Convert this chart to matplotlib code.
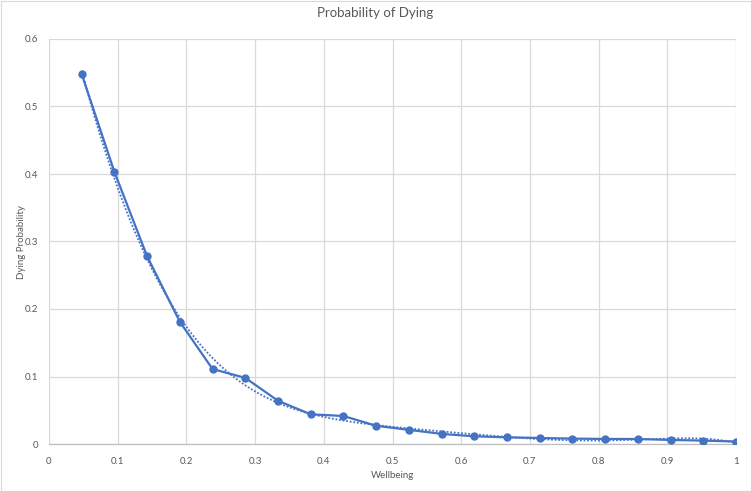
import numpy as np
import matplotlib
matplotlib.use("Agg")
import matplotlib.pyplot as plt
from matplotlib.ticker import FuncFormatter, MultipleLocator

wellbeing = [1/21, 2/21, 3/21, 4/21, 5/21, 6/21, 7/21, 8/21, 9/21, 10/21, 11/21,
             12/21, 13/21, 14/21, 15/21, 16/21, 17/21, 18/21, 19/21, 20/21, 1.0]
dying_prob = [0.548, 0.403, 0.278, 0.181, 0.111, 0.098, 0.064, 0.044, 0.0415, 0.027, 0.021,
              0.015, 0.0114, 0.0099, 0.0089, 0.008, 0.0075, 0.0074, 0.006, 0.005, 0.0037]

title = "Probability of Dying"
xlabel = "Wellbeing"
ylabel = "Dying Probability"

plt.rcParams['font.family'] = ['Lato', 'DejaVu Sans']

W, H = 751, 491
fig = plt.figure(figsize=(W/100, H/100), dpi=100)
ax = fig.add_axes([49/W, 1-444/H, (736-49)/W, (444-39)/H])

blue = '#4472C4'
grey_text = '#595959'

x = np.array(wellbeing)
y = np.array(dying_prob)
# polynomial trendline (order 6, least squares)
coef = np.polyfit(x, y, 6)
xt = np.linspace(x.min(), x.max(), 300)
ax.plot(xt, np.polyval(coef, xt), linestyle=(0, (1, 1)), color=blue, lw=1.3, zorder=2)

ax.plot(x, y, color=blue, lw=1.6, marker='o', markersize=5, zorder=3)

ax.set_xlim(0, 1)
ax.set_ylim(0, 0.6)
ax.xaxis.set_major_locator(MultipleLocator(0.1))
ax.yaxis.set_major_locator(MultipleLocator(0.1))
fmt = FuncFormatter(lambda v, p: ('%.1f' % v).rstrip('0').rstrip('.') if v != 0 else '0')
ax.xaxis.set_major_formatter(fmt)
ax.yaxis.set_major_formatter(fmt)

ax.grid(True, color='#D9D9D9', lw=0.9)
ax.set_axisbelow(True)
for s in ['top', 'right', 'left']:
    ax.spines[s].set_visible(False)
ax.spines['bottom'].set_color('#BFBFBF')
ax.spines['bottom'].set_linewidth(0.9)
ax.tick_params(length=0, colors=grey_text, labelsize=7, pad=9)
ax.tick_params(axis='y', pad=8)

ax.set_xlabel(xlabel, color=grey_text, fontsize=7)
ax.xaxis.set_label_coords(0.5, -(471-444)/405)
fig.text(21.5/W, 1-242/H, ylabel, rotation=90, ha='center', va='center',
         color=grey_text, fontsize=7)
fig.text(0.5, 1-13/H, title, ha='center', va='center', color=grey_text, fontsize=9.5)

# chart border
fig.patches.append(plt.Rectangle((0.5/W, 0.5/H), 1-1/W, 1-1/H, transform=fig.transFigure,
                                 fill=False, edgecolor='#D9D9D9', lw=0.8))

fig.savefig('out.png', dpi=100)
